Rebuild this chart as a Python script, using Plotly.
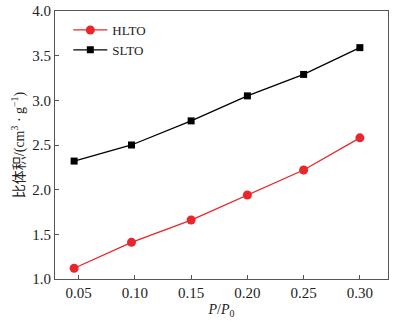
import plotly.graph_objects as go

# Relative pressure and specific volume for the two samples
p_ratio = [0.046, 0.097, 0.15, 0.20, 0.25, 0.30]
hlto = [1.12, 1.41, 1.66, 1.94, 2.22, 2.58]
slto = [2.32, 2.50, 2.77, 3.05, 3.29, 3.59]

x_ticks = [0.05, 0.10, 0.15, 0.20, 0.25, 0.30]
x_tick_text = ["0.05", "0.10", "0.15", "0.20", "0.25", "0.30"]
y_ticks = [1.0, 1.5, 2.0, 2.5, 3.0, 3.5, 4.0]
y_tick_text = ["1.0", "1.5", "2.0", "2.5", "3.0", "3.5", "4.0"]

serif = "Liberation Serif, Times New Roman, Noto Sans CJK SC, serif"

fig = go.Figure()
fig.add_trace(go.Scatter(
    x=p_ratio, y=hlto, name="HLTO", mode="lines+markers",
    line=dict(color="#e8262b", width=1.3),
    marker=dict(symbol="circle", size=9, color="#e8262b"),
))
fig.add_trace(go.Scatter(
    x=p_ratio, y=slto, name="SLTO", mode="lines+markers",
    line=dict(color="#000000", width=1.3),
    marker=dict(symbol="square", size=7, color="#000000"),
))

axis_common = dict(
    showline=True, linecolor="#555555", linewidth=1, mirror=True,
    showgrid=False, zeroline=False, ticks="inside", ticklen=4,
    tickcolor="#555555", tickfont=dict(family=serif, size=15, color="#222222"),
    automargin=False,
)

fig.update_layout(
    width=409, height=324,
    margin=dict(l=55, r=21, t=11, b=45),
    paper_bgcolor="white", plot_bgcolor="white",
    font=dict(family=serif, color="#222222"),
    xaxis=dict(
        range=[0.029, 0.325], tickvals=x_ticks, ticktext=x_tick_text,
        title=dict(text="<i>P</i>/<i>P</i><sub>0</sub>", font=dict(family=serif, size=14), standoff=4),
        **axis_common,
    ),
    yaxis=dict(
        range=[1.0, 4.0], tickvals=y_ticks, ticktext=y_tick_text,
        title=dict(text="比体积/(cm<sup>3</sup> · g<sup>−1</sup>)", font=dict(family=serif, size=14), standoff=4),
        **axis_common,
    ),
    legend=dict(
        x=0.04, y=0.985, xanchor="left", yanchor="top",
        bgcolor="rgba(0,0,0,0)", font=dict(family=serif, size=13, color="#222222"),
        tracegroupgap=0, itemwidth=34,
    ),
    showlegend=True,
)

fig.write_html("out.html")
